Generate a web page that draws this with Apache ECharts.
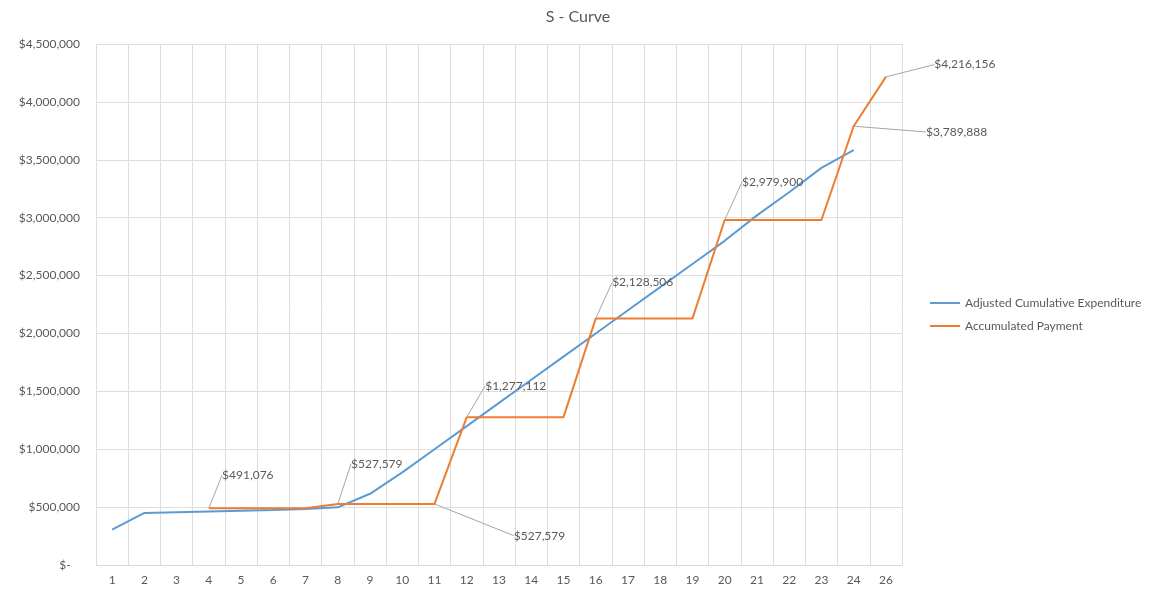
<!doctype html>
<html>
<head>
<meta charset="utf-8">
<title>S - Curve</title>
<style>
	html,body{height:100%;padding:0;margin:0;background:#fff;}
	#chart{width:1156px;height:590px;}
</style>
</head>
<body>
<div id="chart"></div>
<script src="https://cdn.jsdelivr.net/npm/echarts@6/dist/echarts.min.js"></script>
<script>
var periods = ['1','2','3','4','5','6','7','8','9','10','11','12','13','14','15','16','17','18','19','20','21','22','23','24','26'];
var expenditure = [305000, 450000, 456000, 462000, 468000, 475000, 483000, 498000, 615000, 800000, 1000000, 1200000, 1400000, 1600000, 1800000, 2000000, 2200000, 2400000, 2600000, 2800000, 3020000, 3220000, 3430000, 3584000, null];
var payment = [null, null, null, 491076, 491076, 491076, 491076, 527579, 527579, 527579, 527579, 1277112, 1277112, 1277112, 1277112, 2128506, 2128506, 2128506, 2128506, 2979900, 2979900, 2979900, 2979900, 3789888, 4216156];
var yTicks = [0, 500000, 1000000, 1500000, 2000000, 2500000, 3000000, 3500000, 4000000, 4500000];

// which payment points get a callout, and where the callout is pushed to
var callouts = {
	3: [39, -20],
	7: [39, -27],
	10: [105, 45],
	11: [49, -18],
	15: [47, -23],
	19: [48, -25],
	23: [103, 19],
	24: [79, 1]
};

function money(v) {
	if (v === 0) return '$-   ';
	return '$' + v.toLocaleString('en-US');
}

var textColor = '#595959';
var font = 'Lato, "Liberation Sans", sans-serif';

var paymentData = payment.map(function (v, i) {
	if (v !== null && callouts[i]) {
		return {value: v, label: {show: true}};
	}
	return v;
});

var chart = echarts.init(document.getElementById('chart'));
chart.setOption({
	backgroundColor: '#fff',
	animation: false,
	textStyle: {fontFamily: font},
	title: {
		text: 'S - Curve',
		left: 'center',
		top: 4,
		textStyle: {color: textColor, fontSize: 16, fontWeight: 'normal', fontFamily: font}
	},
	legend: {
		orient: 'vertical',
		left: 925,
		top: 292,
		icon: 'rect',
		itemWidth: 30,
		itemHeight: 2,
		itemGap: 11,
		textStyle: {color: textColor, fontSize: 12, fontFamily: font},
		data: ['Adjusted Cumulative Expenditure', 'Accumulated Payment']
	},
	grid: {left: 96, right: 254, top: 44, bottom: 25},
	xAxis: {
		type: 'category',
		data: periods,
		boundaryGap: true,
		axisLine: {lineStyle: {color: '#d9d9d9'}},
		axisTick: {show: false},
		axisLabel: {color: textColor, fontSize: 12, margin: 9, fontFamily: font},
		splitLine: {show: true, lineStyle: {color: '#dedede'}}
	},
	yAxis: {
		type: 'value',
		min: yTicks[0],
		max: yTicks[yTicks.length - 1],
		interval: yTicks[1] - yTicks[0],
		axisLine: {show: false},
		axisTick: {show: false},
		axisLabel: {color: textColor, fontSize: 12, margin: 16, fontFamily: font, formatter: money},
		splitLine: {lineStyle: {color: '#dedede'}}
	},
	series: [
		{
			name: 'Adjusted Cumulative Expenditure',
			type: 'line',
			data: expenditure,
			symbol: 'none',
			color: '#5B9BD5',
			lineStyle: {width: 2, color: '#5B9BD5'},
			z: 2
		},
		{
			name: 'Accumulated Payment',
			type: 'line',
			data: paymentData,
			symbol: 'circle',
			symbolSize: 0.5,
			showSymbol: true,
			color: '#ED7D31',
			itemStyle: {color: '#ED7D31'},
			lineStyle: {width: 2, color: '#ED7D31'},
			z: 3,
			label: {
				show: false,
				position: 'top',
				distance: 5,
				padding: [2, 3],
				color: textColor,
				fontSize: 12,
				fontFamily: font,
				formatter: function (p) { return money(p.value); }
			},
			labelLine: {show: true, lineStyle: {color: '#a6a6a6', width: 1}},
			labelLayout: function (p) {
				var off = callouts[p.dataIndex];
				if (!off) return {};
				return {dx: off[0], dy: off[1]};
			}
		}
	]
});
</script>
</body>
</html>
